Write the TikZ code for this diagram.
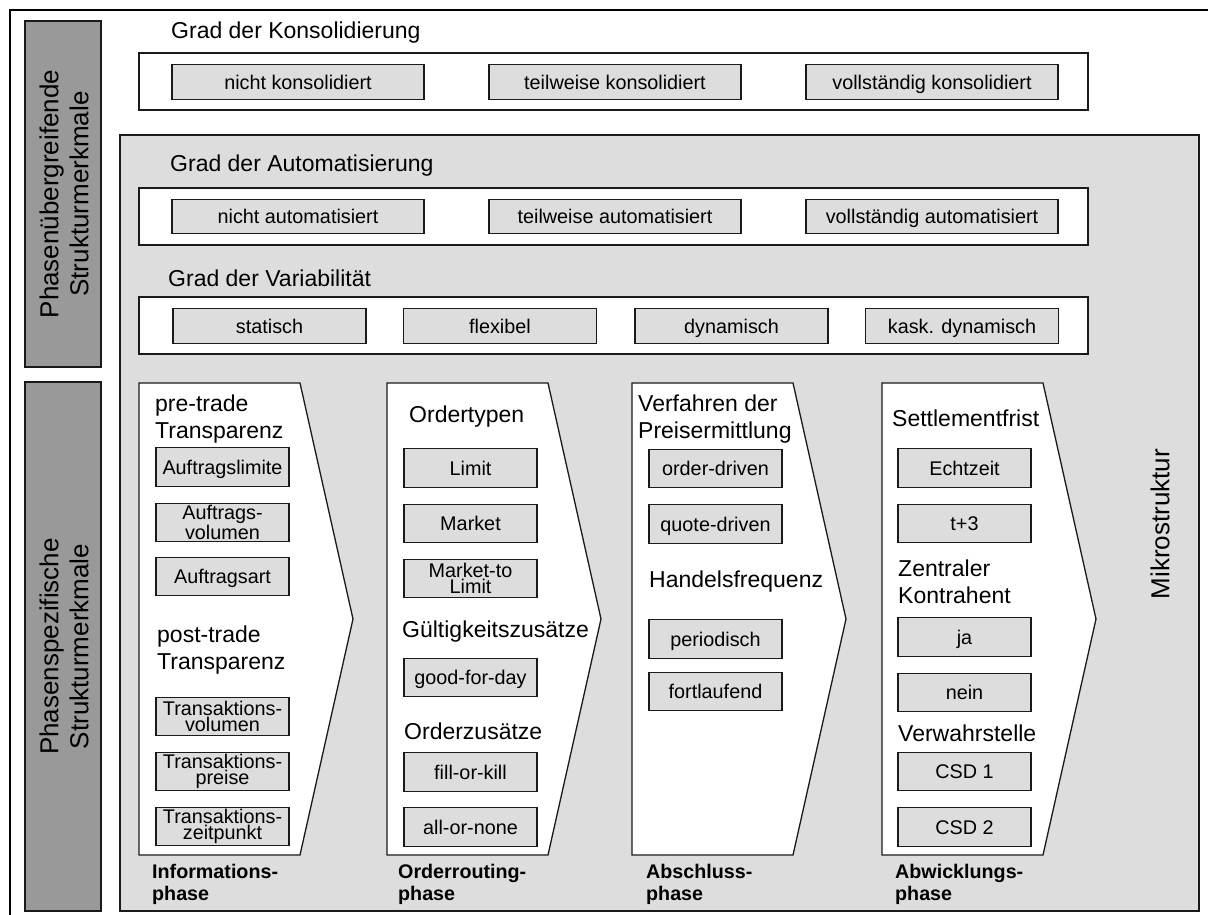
\documentclass[tikz,border=0pt]{standalone}
\usepackage{fontspec}
\setmainfont{Liberation Sans}
\newcommand\fHead{\fontsize{23}{26.5}\selectfont}
\newcommand\fItem{\fontsize{19.8}{16}\selectfont}
\newcommand\fLabel{\fontsize{19.7}{22}\selectfont\bfseries}
\newcommand\fSide{\fontsize{26}{30}\selectfont}
\definecolor{panelgray}{HTML}{DDDDDD}
\definecolor{sidegray}{HTML}{999999}
\definecolor{edge}{HTML}{1A1A1A}
\begin{document}
\begin{tikzpicture}[x=1pt,y=-1pt,
  outerframe/.style={line width=2pt,draw=black},
  sidebox/.style={draw=edge,line width=1.2pt,fill=sidegray,inner sep=0pt},
  panel/.style={draw=edge,line width=1.2pt,fill=panelgray,inner sep=0pt},
  container/.style={draw=edge,line width=1.3pt,fill=white,inner sep=0pt,minimum height=57pt},
  valbox/.style={draw=edge,line width=1.1pt,fill=panelgray,inner sep=0pt,
    font=\fItem,text height=14.2pt,text depth=0pt},
  widebox/.style={valbox,minimum width=252pt,minimum height=34.5pt},
  varbox/.style={valbox,minimum width=193pt,minimum height=34.5pt},
  item/.style={valbox,minimum width=133pt,minimum height=38.5pt},
  itemtwo/.style={draw=edge,line width=1.1pt,fill=panelgray,inner sep=0pt,
    font=\fItem,align=center,minimum width=133pt,minimum height=38.5pt},
  head/.style={anchor=west,inner sep=0pt,font=\fHead,align=left},
  phaselabel/.style={anchor=west,inner sep=0pt,font=\fLabel,align=left},
  phaseshape/.style={draw=edge,line width=1.3pt,fill=white,line join=miter}
]
\useasboundingbox (0,0) rectangle (1208,915);

% outer frame
\draw[outerframe] (10,916) -- (10,10) -- (1209,10);

% side bars
\node[sidebox,minimum width=76pt,minimum height=346pt] (sideTop) at (63,194) {};
\node[rotate=90,align=center,font=\fSide,inner sep=0pt] (sideTopText) at (64,194)
  {Phasenübergreifende\\Strukturmerkmale};
\node[sidebox,minimum width=76pt,minimum height=529pt] (sideBottom) at (63,646.5) {};
\node[rotate=90,align=center,font=\fSide,inner sep=0pt] (sideBottomText) at (64,646.5)
  {Phasenspezifische\\Strukturmerkmale};

% Konsolidierung
\node[head] (konsTitle) at (171,33) {Grad der Konsolidierung};
\node[container,minimum width=949pt] (konsBox) at (613.5,81.5) {};
\node[widebox] (kons1) at (298,82) {nicht konsolidiert};
\node[widebox] (kons2) at (615,82) {teilweise konsolidiert};
\node[widebox] (kons3) at (932,82) {vollständig konsolidiert};

% Mikrostruktur panel
\node[panel,minimum width=1079pt,minimum height=776pt] (mikroPanel) at (659.5,523) {};
\node[rotate=90,font=\fSide,inner sep=0pt] (mikroText) at (1160,524) {Mikrostruktur};

% Automatisierung
\node[head] (autoTitle) at (170,166) {Grad der Automatisierung};
\node[container,minimum width=949pt] (autoBox) at (613.5,216.5) {};
\node[widebox] (auto1) at (298,216.5) {nicht automatisiert};
\node[widebox] (auto2) at (615,216.5) {teilweise automatisiert};
\node[widebox] (auto3) at (932,216.5) {vollständig automatisiert};

% Variabilitaet
\node[head] (varTitle) at (168,278) {Grad der Variabilität};
\node[container,minimum width=949pt] (varBox) at (613.5,325.5) {};
\node[varbox] (var1) at (269.5,326) {statisch};
\node[varbox] (var2) at (500,326) {flexibel};
\node[varbox] (var3) at (731.5,326) {dynamisch};
\node[varbox] (var4) at (962,326) {kask. dynamisch};

% phase arrows
\foreach \px in {139,387,632,882}
  \draw[phaseshape] (\px,383) -- ++(161,0) -- ++(53,236) -- ++(-53,236) -- (\px,855) -- cycle;

% Informationsphase
\node[head] (preTrade) at (155,419) {pre-trade\\Transparenz};
\node[item] (inf1) at (222.5,467) {Auftragslimite};
\node[itemtwo] (inf2) at (222.5,522.5) {Auftrags-\\volumen};
\node[item] (inf3) at (222.5,576.5) {Auftragsart};
\node[head] (postTrade) at (157,650) {post-trade\\Transparenz};
\node[itemtwo] (inf4) at (222.5,716.5) {Transaktions-\\volumen};
\node[itemtwo] (inf5) at (222.5,771.5) {Transaktions-\\preise};
\node[itemtwo] (inf6) at (222.5,826.5) {Transaktions-\\zeitpunkt};
\node[phaselabel] (infLabel) at (152,884) {Informations-\\phase};

% Orderroutingphase
\node[head] (ordTypes) at (409,417) {Ordertypen};
\node[item] (ord1) at (470.5,468) {Limit};
\node[item] (ord2) at (470.5,523.5) {Market};
\node[itemtwo] (ord3) at (470.5,578.5) {Market-to\\Limit};
\node[head] (ordValid) at (402,632) {Gültigkeitszusätze};
\node[item] (ord4) at (470.5,677.5) {good-for-day};
\node[head] (ordExtra) at (404,731) {Orderzusätze};
\node[item] (ord5) at (470.5,772) {fill-or-kill};
\node[item] (ord6) at (470.5,827) {all-or-none};
\node[phaselabel] (ordLabel) at (398,884) {Orderrouting-\\phase};

% Abschlussphase
\node[head] (absPrice) at (638,419) {Verfahren der\\Preisermittlung};
\node[item] (abs1) at (715.5,468.5) {order-driven};
\node[item] (abs2) at (715.5,524) {quote-driven};
\node[head] (absFreq) at (649,582) {Handelsfrequenz};
\node[item] (abs3) at (715.5,639) {periodisch};
\node[item] (abs4) at (715.5,691.5) {fortlaufend};
\node[phaselabel] (absLabel) at (646,884) {Abschluss-\\phase};

% Abwicklungsphase
\node[head] (abwFrist) at (892,418) {Settlementfrist};
\node[item] (abw1) at (964.5,468) {Echtzeit};
\node[item] (abw2) at (964.5,523.5) {t+3};
\node[head] (abwCCP) at (898,582) {Zentraler\\Kontrahent};
\node[item] (abw3) at (964.5,637) {ja};
\node[item] (abw4) at (964.5,692.5) {nein};
\node[head] (abwCSD) at (898,733) {Verwahrstelle};
\node[item] (abw5) at (964.5,771.5) {CSD 1};
\node[item] (abw6) at (964.5,827) {CSD 2};
\node[phaselabel] (abwLabel) at (895,884) {Abwicklungs-\\phase};
\end{tikzpicture}
\end{document}
